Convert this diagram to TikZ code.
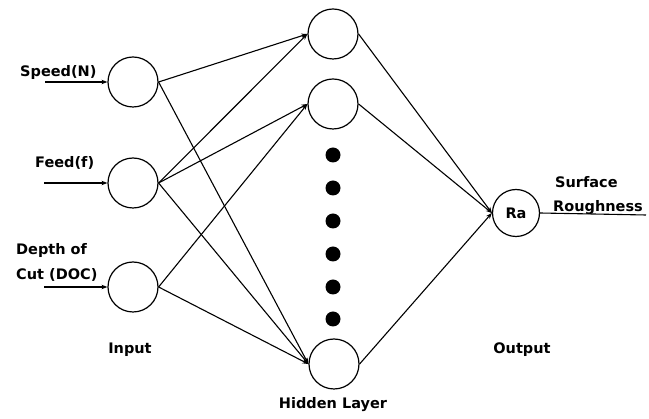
\documentclass[tikz,border=0pt]{standalone}
\usepackage{fontspec}
\setmainfont{DejaVu Sans}
\usetikzlibrary{arrows.meta}
\begin{document}
\begin{tikzpicture}[x=1pt,y=-1pt,
  neuron/.style={circle,draw,line width=1.2pt,minimum size=50pt,inner sep=0pt},
  outneuron/.style={circle,draw,line width=1.2pt,minimum size=47pt,inner sep=0pt},
  dotmark/.style={circle,fill=black,minimum size=15pt,inner sep=0pt},
  link/.style={line width=1.1pt,-{Stealth[length=6pt,width=4.5pt]}},
  plain/.style={line width=1.1pt},
  txt/.style={font=\fontsize{14.5}{17}\selectfont\bfseries},
  lbl/.style={txt,inner sep=0pt,align=left}]
\useasboundingbox (0,0) rectangle (649,419);

% input layer
\node[neuron] (i1) at (133,82) {};
\node[neuron] (i2) at (133,183) {};
\node[neuron] (i3) at (133,287) {};

% hidden layer
\node[neuron] (h1) at (333,34) {};
\node[neuron] (h2) at (333,104) {};
\node[neuron] (hn) at (334,364) {};
\foreach \k/\yy in {1/155,2/188,3/221,4/254,5/287,6/319}
  \node[dotmark] (d\k) at (333,\yy) {};

% output layer
\node[outneuron,txt] (o) at (516,213) {Ra};

% input arrows and labels
\coordinate (s1) at (45,82);
\coordinate (s2) at (44,183);
\coordinate (s3) at (44,287);
\draw[link] (s1) -- (i1.west);
\draw[link] (s2) -- (i2.west);
\draw[link] (s3) -- (i3.west);
\node[lbl,anchor=base west] (t1) at (20,77) {Speed(N)};
\node[lbl,anchor=base west] (t2) at (35,168) {Feed(f)};
\node[lbl,anchor=base west] (t3) at (16,255) {Depth of};
\node[lbl,anchor=base west] (t4) at (16,280) {Cut (DOC)};

% input to hidden
\foreach \i/\h in {i1/h1,i1/hn,i2/h1,i2/h2,i2/hn,i3/h2,i3/hn}
  \draw[link] (\i.east) -- (\h.west);

% hidden to output
\foreach \h in {h1,h2,hn}
  \draw[link] (\h.east) -- (o.west);

% output line
\coordinate (e) at (646,215);
\draw[plain] (o.east) -- (e);
\node[lbl,anchor=base west] (t5) at (555,188) {Surface};
\node[lbl,anchor=base west] (t6) at (553,212) {Roughness};

% layer captions
\node[lbl] (c1) at (130,350) {Input};
\node[lbl] (c2) at (522,350) {Output};
\node[lbl] (c3) at (333,405) {Hidden Layer};
\end{tikzpicture}
\end{document}
